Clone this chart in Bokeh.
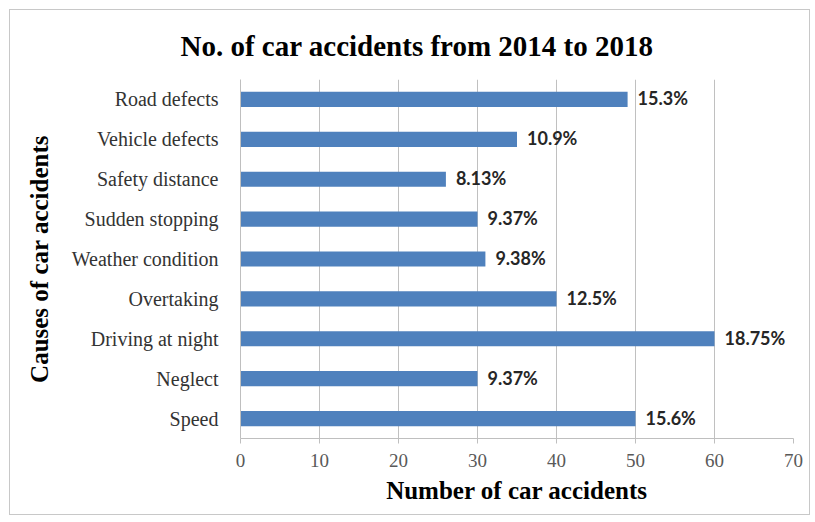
from bokeh.plotting import figure
from bokeh.models import ColumnDataSource, FixedTicker, Range1d, FactorRange, LabelSet
from bokeh.embed import file_html
from bokeh.resources import INLINE
from bokeh.core.properties import value

causes = ["Road defects", "Vehicle defects", "Safety distance", "Sudden stopping",
          "Weather condition", "Overtaking", "Driving at night", "Neglect", "Speed"]
accidents = [49, 35, 26, 30, 31, 40, 60, 30, 50]
percent_labels = ["15.3%", "10.9%", "8.13%", "9.37%", "9.38%", "12.5%", "18.75%", "9.37%", "15.6%"]
x_ticks = [0, 10, 20, 30, 40, 50, 60, 70]

SERIF = "Liberation Serif"

src = ColumnDataSource(dict(cause=causes, n=accidents, lbl=percent_labels))

p = figure(width=801, height=506,
           y_range=FactorRange(factors=list(reversed(causes))),
           x_range=Range1d(0, 70),
           output_backend="svg", toolbar_location=None,
           title="No. of car accidents from 2014 to 2018")
p.min_border_left = 230
p.min_border_right = 18
p.min_border_top = 69
p.min_border_bottom = 78
p.styles = {"border": "1px solid #c8c8c8", "margin": "9px 0 0 9px"}

p.hbar(y="cause", right="n", left=0, height=0.38, source=src,
       fill_color="#4F81BD", line_color=None)

labels = LabelSet(x="n", y="cause", text="lbl", source=src, x_offset=10, y_offset=1,
                  text_baseline="middle", text_font=value("Lato"), text_font_style="bold",
                  text_font_size="18px", text_color="#262626")
p.add_layout(labels)

p.title.text_font = SERIF
p.title.text_font_style = "bold"
p.title.text_font_size = "29px"
p.title.align = "left"
p.title.offset = -60
p.title.standoff = 35
p.title.text_color = "#000000"

p.outline_line_color = None
p.ygrid.grid_line_color = None
p.xgrid.grid_line_color = "#c0c0c0"
p.xgrid.ticker = FixedTicker(ticks=x_ticks)

xa = p.xaxis[0]
xa.ticker = FixedTicker(ticks=x_ticks)
xa.axis_label = "Number of car accidents"
xa.axis_label_text_font = SERIF
xa.axis_label_text_font_style = "bold"
xa.axis_label_text_font_size = "25px"
xa.axis_label_text_color = "#000000"
xa.axis_label_standoff = 7
xa.major_label_text_font = SERIF
xa.major_label_text_font_size = "19px"
xa.major_label_text_color = "#595959"
xa.major_label_standoff = 10
xa.axis_line_color = "#bfbfbf"
xa.major_tick_line_color = "#bfbfbf"
xa.major_tick_out = 5
xa.major_tick_in = 0
xa.minor_tick_line_color = None

ya = p.yaxis[0]
ya.axis_label = "Causes of car accidents"
ya.axis_label_text_font = SERIF
ya.axis_label_text_font_style = "bold"
ya.axis_label_text_font_size = "25px"
ya.axis_label_text_color = "#000000"
ya.axis_label_standoff = 16
ya.major_label_text_font = SERIF
ya.major_label_text_font_size = "20px"
ya.major_label_text_color = "#333333"
ya.major_label_standoff = 22
ya.axis_line_color = "#bfbfbf"
ya.major_tick_line_color = None
ya.major_tick_out = 0
ya.major_tick_in = 0

open("out.html", "w").write(file_html(p, INLINE))
